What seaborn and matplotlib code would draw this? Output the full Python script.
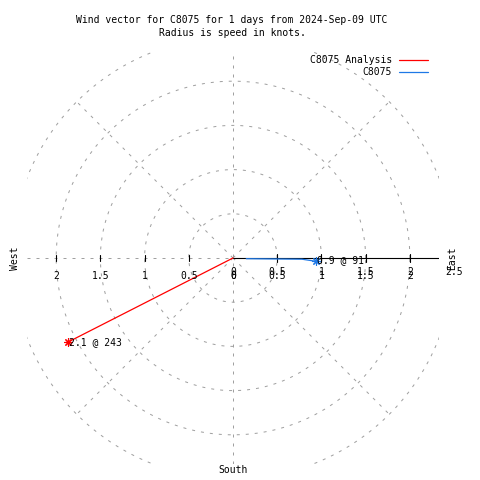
import numpy as np
import matplotlib
matplotlib.use("Agg")
import matplotlib.pyplot as plt
import seaborn as sns

# data: speed (knots) and compass direction (deg, clockwise from north)
analysis_speed = [0.0, 2.1]
analysis_dir = [243, 243]
obs_speed = [0.15, 0.78, 0.94]
obs_dir = [93, 91, 92.3]
analysis_label = "2.1 @ 243"
obs_label = "0.9 @ 91"

grid_radii = [0.5, 1.0, 1.5, 2.0, 2.5]
tick_radii = [0.5, 1.0, 1.5, 2.0]
r_labels = ["0", "0.5", "1", "1.5", "2", "2.5"]
x_labels = ["0", "0.5", "1", "1.5", "2"]
diag_angles = [45, 135, 225, 315]

title = "Wind vector for C8075 for 1 days from 2024-Sep-09 UTC\nRadius is speed in knots."

sns.set_style("white")
plt.rcParams["font.family"] = ["DejaVu Sans Mono", "DejaVu Sans"]
plt.rcParams["font.size"] = 7
plt.rcParams["text.color"] = "black"


def to_xy(speed, direction):
    s = np.asarray(speed, dtype=float)
    d = np.radians(np.asarray(direction, dtype=float))
    return s * np.sin(d), s * np.cos(d)


fig = plt.figure(figsize=(4.8, 4.8), dpi=100)
ax = fig.add_axes([27 / 480, 16 / 480, 412 / 480, 412 / 480])
lim = 2.33
ax.set_xlim(-lim, lim)
ax.set_ylim(-lim, lim)
ax.set_aspect("equal")
ax.set_axis_off()

grey = "#a0a0a0"
dash = dict(color=grey, lw=0.72, dashes=(3, 6))

# polar grid
t = np.linspace(0, 2 * np.pi, 400)
for r in grid_radii:
    ax.plot(r * np.cos(t), r * np.sin(t), **dash)
for a in diag_angles:
    gx, gy = to_xy([0, grid_radii[-1]], [a, a])
    ax.plot(gx, gy, **dash)
ax.plot([-lim, lim], [0, 0], **dash)
ax.plot([0, 0], [-lim, lim], **dash)

# r axis (black) with ticks
ax.plot([0, lim], [0, 0], color="black", lw=0.8)
for r in tick_radii:
    ax.plot([r, r], [-0.05, 0.05], color="black", lw=0.8)
    ax.plot([-r, -r], [-0.035, 0.035], color="black", lw=0.8)

# tick labels (gnuplot overlaps two sets on the right)
for i, lab in enumerate(r_labels):
    ax.text(i * 0.5, -0.155, lab, ha="center", va="center", clip_on=False)
for i, lab in enumerate(x_labels):
    ax.text(i * 0.5, -0.2, lab, ha="center", va="center", clip_on=False)
    ax.text(-i * 0.5, -0.2, lab, ha="center", va="center", clip_on=False)

# vectors
ax_x, ax_y = to_xy(analysis_speed, analysis_dir)
ob_x, ob_y = to_xy(obs_speed, obs_dir)
sns.lineplot(x=ax_x, y=ax_y, sort=False, estimator=None, color="#ff0000",
             lw=0.9, label="C8075 Analysis", ax=ax)
sns.lineplot(x=ob_x, y=ob_y, sort=False, estimator=None, color="#1e78e6",
             lw=0.9, label="C8075", ax=ax)
ax.plot(ax_x[-1], ax_y[-1], marker=(8, 2, 0), ms=6, color="#ff0000", mew=0.8)
ax.plot(ob_x[-1], ob_y[-1], marker=(8, 2, 0), ms=6, color="#1e78e6", mew=0.8)
ax.annotate(analysis_label, (ax_x[-1], ax_y[-1]), xytext=(1, 0),
            textcoords="offset points", va="center", ha="left")
ax.annotate(obs_label, (ob_x[-1], ob_y[-1]), xytext=(1, 1),
            textcoords="offset points", va="center", ha="left")

leg = ax.legend(markerfirst=False, frameon=False, loc="upper right",
                bbox_to_anchor=(428 / 480, 1 - 55 / 480),
                bbox_transform=fig.transFigure, borderpad=0, borderaxespad=0,
                handlelength=3.0, handletextpad=0.7, labelspacing=0.25,
                fontsize=7)
for t_ in leg.get_texts():
    t_.set_ha("right")
    t_.set_color("black")

# compass labels and title
fig.text(15 / 480, 1 - 258 / 480, "West", rotation=90, ha="center", va="center")
fig.text(452 / 480, 1 - 258 / 480, "East", rotation=90, ha="center", va="center")
fig.text(233 / 480, 1 - 470 / 480, "South", ha="center", va="center")
fig.text(232 / 480, 1 - 26.5 / 480, title, ha="center", va="center",
         linespacing=1.35)

fig.savefig("out.png", dpi=100)
